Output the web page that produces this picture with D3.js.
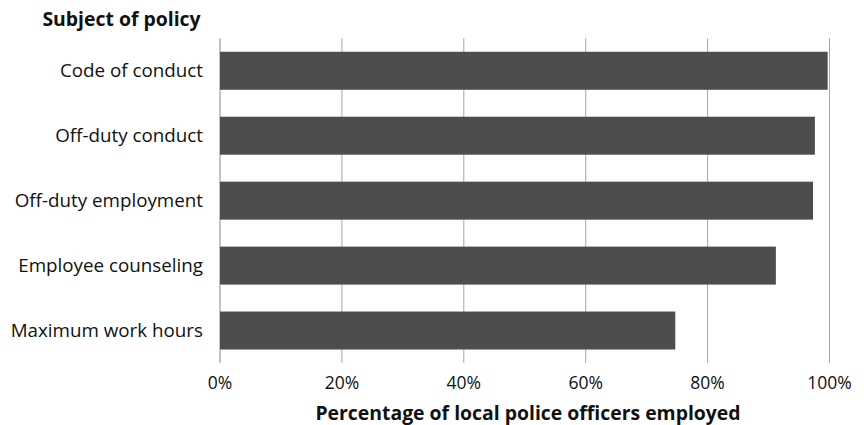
<!DOCTYPE html>
<html><head><meta charset="utf-8">
<script src="https://cdn.jsdelivr.net/npm/d3@7"></script>
<style>body{margin:0;background:#fff}svg{display:block}text{font-family:"Open Sans","Noto Sans",sans-serif;fill:#111}</style>
</head><body><svg id="c" width="864" height="425"></svg>
<script>
const categories = ["Code of conduct","Off-duty conduct","Off-duty employment","Employee counseling","Maximum work hours"];
const values = [99.7, 97.6, 97.3, 91.2, 74.7];
const tickValues = [0,20,40,60,80,100];
const tickLabels = ["0%","20%","40%","60%","80%","100%"];

const svg = d3.select("#c");
const L = 220, R = 829.5, T = 38.3, B = 363;
const x = d3.scaleLinear().domain([0,100]).range([L,R]);
const y = d3.scaleBand().domain(categories).range([T,B]).paddingInner(0.415).paddingOuter(0.2075);

svg.append("g").selectAll("line").data(tickValues).join("line")
  .attr("x1",d=>x(d)).attr("x2",d=>x(d)).attr("y1",T).attr("y2",B)
  .attr("stroke",d=>d===0?"#888":"#a6a6a6").attr("stroke-width",1);

svg.append("g").selectAll("rect").data(categories).join("rect")
  .attr("x",x(0)).attr("y",d=>y(d)).attr("height",y.bandwidth())
  .attr("width",(d,i)=>x(values[i])-x(0)).attr("fill","#4d4d4d");

svg.append("g").selectAll("text").data(categories).join("text")
  .attr("x",203).attr("y",d=>y(d)+y.bandwidth()/2).attr("dy","0.35em")
  .attr("text-anchor","end").attr("font-size",18.8).text(d=>d);

svg.append("g").selectAll("text").data(tickValues).join("text")
  .attr("x",d=>x(d)).attr("y",383).attr("dy","0.35em")
  .attr("text-anchor","middle").attr("font-size",17.5).text((d,i)=>tickLabels[i]);

svg.append("text").attr("x",121.5).attr("y",19).attr("dy","0.35em").attr("text-anchor","middle")
  .attr("font-size",19.4).attr("font-weight","bold").text("Subject of policy");
svg.append("text").attr("x",528).attr("y",413).attr("dy","0.35em").attr("text-anchor","middle")
  .attr("font-size",19.4).attr("font-weight","bold").text("Percentage of local police officers employed");
</script></body></html>
